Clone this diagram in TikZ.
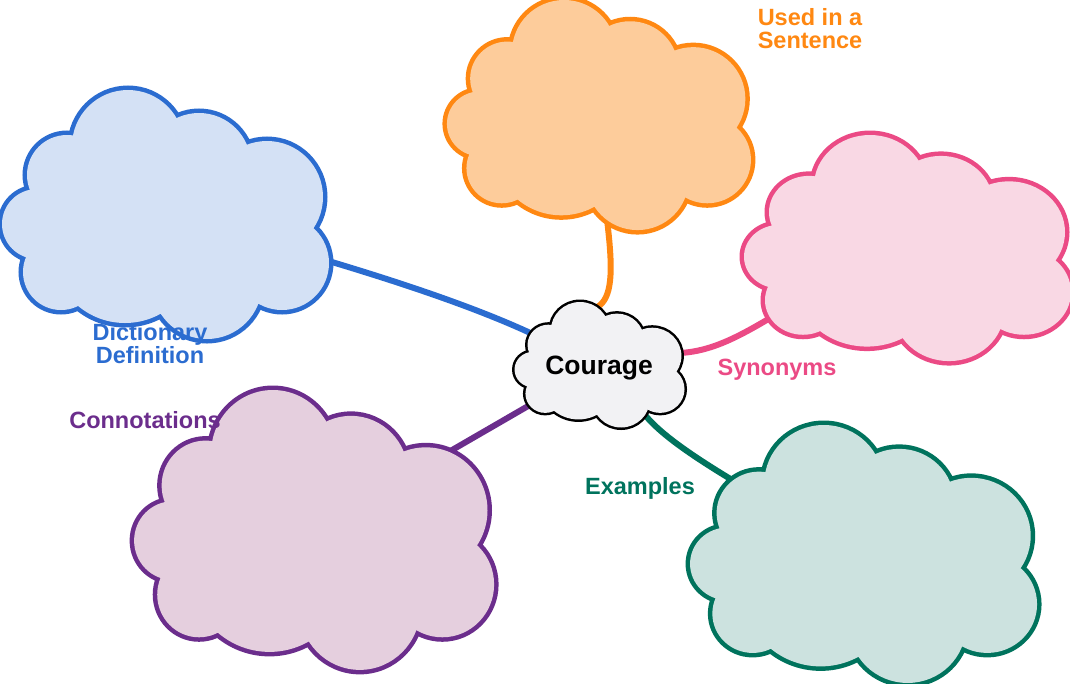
\documentclass[tikz,border=0pt]{standalone}
\usepackage{fontspec}
\setmainfont{Liberation Sans}
\usetikzlibrary{shapes.geometric, backgrounds}

\definecolor{defline}{HTML}{2B6CD0}
\definecolor{deffill}{HTML}{D4E1F5}
\definecolor{sentline}{HTML}{FF8812}
\definecolor{sentfill}{HTML}{FDCC9B}
\definecolor{synline}{HTML}{EB4A85}
\definecolor{synfill}{HTML}{F9D8E4}
\definecolor{connline}{HTML}{6B2D8C}
\definecolor{connfill}{HTML}{E5CFDE}
\definecolor{exline}{HTML}{00735D}
\definecolor{exfill}{HTML}{CCE2DF}
\definecolor{midline}{HTML}{000000}
\definecolor{midfill}{HTML}{F2F2F4}

% cloud drawn in a 327 x 250 box
\newcommand{\cloudpuffs}{(36,134) circle (35) (66,85) circle (40) (127,56) circle (56)
  (198,75) circle (52) (266,107) circle (56) (281,173) circle (47)
  (206,194) circle (55) (124,160) circle (73) (60,182) circle (38)}
\newcommand{\cloudcore}{(33,101) -- (73,50) -- (176,34) -- (244,60) -- (308,140)
  -- (254,207) -- (161,216) -- (79,209) -- (30,166) -- cycle}

% name, centre, width, height, colour, line width, text
\newcommand{\drawcloud}[7]{%
  \begin{scope}[shift={#2}, xscale=#3/327, yscale=#4/250, shift={(-163.5,-125)}]
    \draw[#5line, line width=2*#6] \cloudpuffs;
    \fill[#5fill] \cloudpuffs;
    \fill[#5fill] \cloudcore;
  \end{scope}
  \node[cloudnode, minimum width=0.9*#3, minimum height=0.9*#4] (#1) at #2 {#7};}

\begin{document}
\begin{tikzpicture}[x=1pt, y=-1pt,
  cloudnode/.style={ellipse, inner sep=0pt, outer sep=0pt, text depth=0pt,
    font=\fontsize{26.5}{26.5}\selectfont\bfseries},
  lab/.style={font=\fontsize{23.5}{23}\selectfont\bfseries, inner sep=0pt},
  link/.style={line width=6pt}]
\useasboundingbox (0,0) rectangle (1070,683);

\drawcloud{def}{(164.5,215)}{327}{250}{def}{4.5}{}
\drawcloud{sent}{(598,115.5)}{304}{231}{sent}{4.5}{}
\drawcloud{syn}{(906.5,248.5)}{327}{227}{syn}{4.5}{}
\drawcloud{conn}{(313,530.5)}{360}{281}{conn}{4.5}{}
\drawcloud{ex}{(862.5,554.5)}{347}{259}{ex}{4.5}{}
\drawcloud{courage}{(599,365)}{170}{126}{mid}{2.5}{Courage}

\begin{pgfonlayer}{background}
\draw[link, defline] (def.center) .. controls +(150,40) and +(-85,-40) .. (courage.155);
\draw[link, sentline] (sent.center) .. controls +(0,85) and +(35,-12) .. (courage.95);
\draw[link, synline] (syn.center) .. controls +(-120,45) and +(68,0) .. (courage.9);
\draw[link, connline] (conn.center) -- (courage);
\draw[link, exline] (ex.center) .. controls +(-110,-62) and +(25,35) .. (courage.-47);
\end{pgfonlayer}

\node[lab, text=defline, align=center, anchor=north] (deflabel) at (150,323) {Dictionary\\Definition};
\node[lab, text=sentline, align=center, anchor=north] (sentlabel) at (810,8.5) {Used in a\\Sentence};
\node[lab, text=synline, anchor=base] (synlabel) at (777,375) {Synonyms};
\node[lab, text=connline, anchor=base] (connlabel) at (145,428) {Connotations};
\node[lab, text=exline, anchor=base] (exlabel) at (640,494) {Examples};
\end{tikzpicture}
\end{document}
